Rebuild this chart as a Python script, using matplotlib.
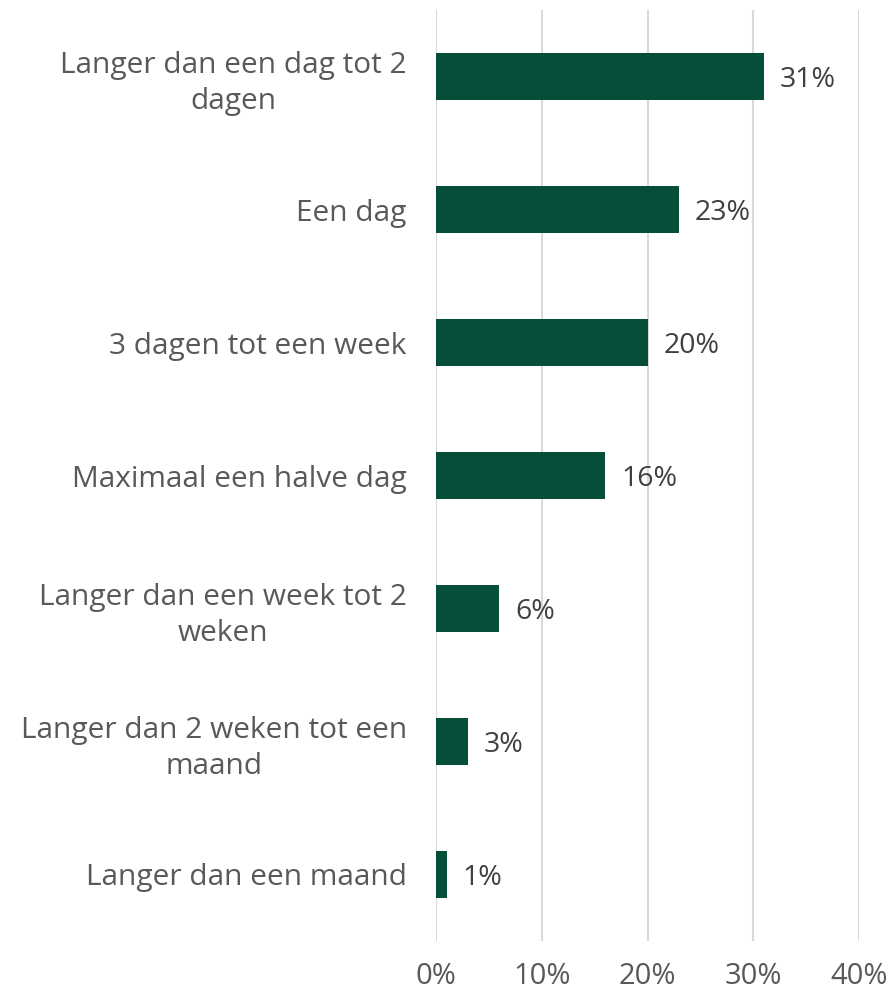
import matplotlib.pyplot as plt

categories = [
    "Langer dan een dag tot 2\ndagen",
    "Een dag",
    "3 dagen tot een week",
    "Maximaal een halve dag",
    "Langer dan een week tot 2\nweken",
    "Langer dan 2 weken tot een\nmaand",
    "Langer dan een maand",
]
values = [31, 23, 20, 16, 6, 3, 1]
xticks = [0, 10, 20, 30, 40]
xtick_labels = ["0%", "10%", "20%", "30%", "40%"]

plt.rcParams['font.family'] = ['Open Sans', 'DejaVu Sans']

fig = plt.figure(figsize=(8.9, 9.94), dpi=100)
ax = fig.add_axes([436/890, 1-941/994, (859-436)/890, (941-10)/994])

y = list(range(len(categories)))
ax.barh(y, values, height=0.35, color='#064e3a', zorder=3)
for yi, v in zip(y, values):
    ax.text(v + 1.5, yi + 0.03, f"{v}%", va='center', ha='left', fontsize=20.5, color='#404040')

ax.set_xlim(0, 40)
ax.set_ylim(len(categories) - 0.5, -0.5)
ax.set_xticks(xticks)
ax.set_xticklabels(xtick_labels, fontsize=21, color='#595959')
ax.set_yticks(y)
ax.set_yticklabels(categories, fontsize=21.5, color='#595959', ha='right',
                   multialignment='center', linespacing=1.3)
ax.tick_params(axis='y', length=0, pad=21)
ax.tick_params(axis='x', length=0, pad=15)
ax.xaxis.grid(True, color='#d9d9d9', linewidth=1.5, zorder=0)
for s in ax.spines.values():
    s.set_visible(False)

fig.savefig('out.png', dpi=100)
